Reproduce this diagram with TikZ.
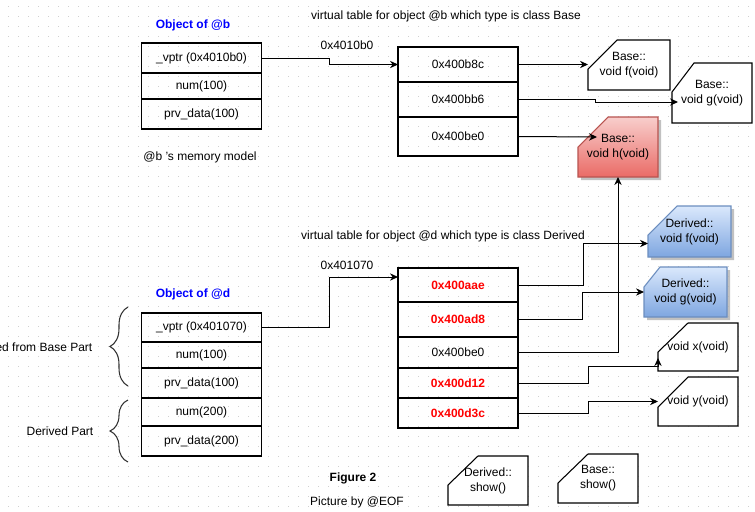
\documentclass[tikz,border=0pt]{standalone}
\usepackage{fontspec}
\setmainfont{Liberation Sans}
\usetikzlibrary{positioning,arrows.meta,decorations.pathreplacing,shadows}
\definecolor{gridgray}{HTML}{CFCFCF}
\definecolor{titleblue}{HTML}{0000FF}
\definecolor{addrred}{HTML}{FF0000}
\definecolor{redtop}{HTML}{F8CECC}
\definecolor{redbot}{HTML}{EA6B66}
\definecolor{redline}{HTML}{B85450}
\definecolor{bluetop}{HTML}{DAE8FC}
\definecolor{bluebot}{HTML}{7EA6E0}
\definecolor{blueline}{HTML}{6C8EBF}
\tikzset{
  griddots/.style={gridgray, line width=0.75pt, dash pattern=on 0.75pt off 6.75pt, dash phase=1.5pt},
  cell/.style={draw, line width=0.8pt, minimum width=120*0.75pt, inner sep=0pt, outer sep=0pt},
  rowh/.style={minimum height=#1*0.75pt},
  addr/.style={text=addrred, font=\fontsize{9}{11.25}\selectfont\bfseries},
  link/.style={-{Stealth[length=6pt,width=5.5pt]}, line width=0.75pt},
  fntext/.style={align=center, inner sep=0pt, outer sep=0pt},
  plaincard/.style={draw, fill=white, line width=0.8pt},
  cardshadow/.style={drop shadow={shadow xshift=2.25pt, shadow yshift=-2.25pt, fill=black!30, opacity=0.8}},
  redcard/.style={draw=redline, top color=redtop, bottom color=redbot, line width=0.8pt, cardshadow},
  bluecard/.style={draw=blueline, top color=bluetop, bottom color=bluebot, line width=0.8pt, cardshadow},
  partbrace/.style={black!80, line width=0.8pt, decorate, decoration={brace, amplitude=13.5pt}},
}
% card with a cut top-left corner: name, look, left, top, width, height, cut x, cut y, text
\newcommand\fncard[9]{%
  \path[#2] (#3,#4+#8) -- (#3+#7,#4) -- (#3+#5,#4) -- (#3+#5,#4+#6) -- (#3,#4+#6) -- cycle;
  \node[fntext, minimum width=#5*0.75pt, minimum height=#6*0.75pt] (#1) at (#3+#5/2,#4+#6/2) {#9};}
\begin{document}
\begin{tikzpicture}[x=0.75pt, y=-0.75pt, font=\fontsize{9}{11.25}\selectfont]
  \useasboundingbox (0,0) rectangle (755,511);
  \clip (0,0) rectangle (755,511);
  \fill[white] (0,0) rectangle (755,511);
  \foreach \gy in {6,16,...,506}
    \draw[griddots] (0,\gy) -- (755,\gy);

  % object @b
  \node[font=\fontsize{9}{11.25}\selectfont\bfseries, text=titleblue] (bobjtitle) at (193,25) {Object of @b};
  \node[cell, rowh=30] (bvptr) at (201.5,58) {\_vptr (0x4010b0)};
  \node[cell, rowh=26, below=0pt of bvptr] (bnum) {num(100)};
  \node[cell, rowh=30, below=0pt of bnum] (bdata) {prv\_data(100)};
  \node (bmodel) at (200,157) {@b 's memory model};

  % vtable of @b
  \node (bvttitle) at (446,16) {virtual table for object @b which type is class Base};
  \node (bvtaddr) at (347,45) {0x4010b0};
  \node[cell, rowh=35] (bvt1) at (458,64.5) {0x400b8c};
  \node[cell, rowh=35, below=0pt of bvt1] (bvt2) {0x400bb6};
  \node[cell, rowh=39, below=0pt of bvt2] (bvt3) {0x400be0};

  % functions
  \fncard{bf}{plaincard}{588}{40}{82}{50}{29}{29}{Base::\\void f(void)}
  \fncard{bg}{plaincard}{672}{63}{80}{60}{22}{29}{Base::\\void g(void)}
  \fncard{bh}{redcard}{578}{117}{80}{60}{30}{30}{Base::\\void h(void)}
  \fncard{df}{bluecard}{648}{206}{83}{51}{29}{29}{Derived::\\void f(void)}
  \fncard{dg}{bluecard}{644}{267}{83}{50}{16}{20}{Derived::\\void g(void)}
  \fncard{vx}{plaincard}{658}{323}{80}{48}{30}{29}{void x(void)}
  \fncard{vy}{plaincard}{658}{377}{80}{49}{30}{30}{void y(void)}
  \fncard{dshow}{plaincard}{448}{456}{80}{49}{30}{29}{Derived::\\show()}
  \fncard{bshow}{plaincard}{558}{454}{80}{49}{30}{29}{Base::\\show()}

  % object @d
  \node[font=\fontsize{9}{11.25}\selectfont\bfseries, text=titleblue] (dobjtitle) at (193,294) {Object of @d};
  \node[cell, rowh=29] (dvptr) at (201.5,327.5) {\_vptr (0x401070)};
  \node[cell, rowh=26, below=0pt of dvptr] (dnum) {num(100)};
  \node[cell, rowh=30, below=0pt of dnum] (ddata) {prv\_data(100)};
  \node[cell, rowh=28, below=0pt of ddata] (dnumb) {num(200)};
  \node[cell, rowh=30, below=0pt of dnumb] (ddatab) {prv\_data(200)};
  \draw[partbrace] (128,386) -- (128,307);
  \draw[partbrace] (128,462) -- (128,400);
  \node[anchor=east] (basepart) at (97,347) {Inherited from Base Part};
  \node[anchor=east] (derivedpart) at (98,431) {Derived Part};

  % vtable of @d
  \node (dvttitle) at (443,236) {virtual table for object @d which type is class Derived};
  \node (dvtaddr) at (347,265) {0x401070};
  \node[cell, rowh=34, addr] (dvt1) at (458,285) {0x400aae};
  \node[cell, rowh=35, addr, below=0pt of dvt1] (dvt2) {0x400ad8};
  \node[cell, rowh=31, below=0pt of dvt2] (dvt3) {0x400be0};
  \node[cell, rowh=30, addr, below=0pt of dvt3] (dvt4) {0x400d12};
  \node[cell, rowh=30, addr, below=0pt of dvt4] (dvt5) {0x400d3c};
  \draw[line width=1.8pt] (dvt4.north west) -- (dvt4.north east);

  % pointers
  \draw[link] (bvptr.east) -- ++(68,0) |- (bvt1.west);
  \draw[link] (bvt1.east) -- (bvt1.east -| bf.west);
  \draw[link] (bvt2.east) -- ++(77,0) |- ([shift={(6,9)}]bg.west);
  \draw[link] (bvt3.east) -- ([shift={(19,-10)}]bh.west);
  \draw[link] (dvptr.east) -- ++(68,0) |- ([shift={(0,-8)}]dvt1.west);
  \draw[link] (dvt1.east) -- ++(65,0) |- ([shift={(0,12)}]df.west);
  \draw[link] (dvt2.east) -- ++(64,0) |- (dg.west);
  \draw[link] (dvt3.east) -| (bh.south);
  \draw[link] (dvt4.east) -- ++(70,0) |- ([shift={(0,19)}]vx.west) -- ([shift={(0,11)}]vx.west);
  \draw[link] (dvt5.east) -- ++(70,0) |- (vy.west);

  % caption
  \node[font=\fontsize{9}{11.25}\selectfont\bfseries] (figcaption) at (353,478) {Figure 2};
  \node (figcredit) at (357,502) {Picture by @EOF};
\end{tikzpicture}
\end{document}
